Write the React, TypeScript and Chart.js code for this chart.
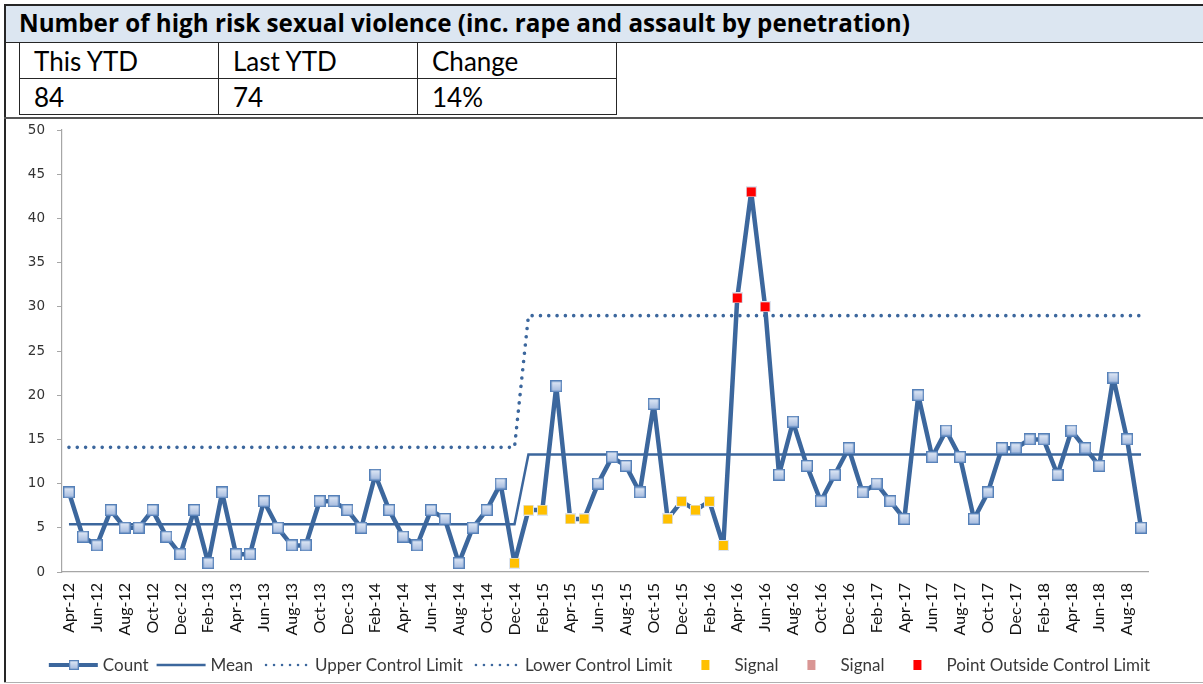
import React, { useEffect, useRef } from 'react';
import { Chart, registerables } from 'chart.js';

Chart.register(...registerables);

const months = [
  'Apr-12', 'May-12', 'Jun-12', 'Jul-12', 'Aug-12', 'Sep-12', 'Oct-12', 'Nov-12', 'Dec-12',
  'Jan-13', 'Feb-13', 'Mar-13', 'Apr-13', 'May-13', 'Jun-13', 'Jul-13', 'Aug-13', 'Sep-13', 'Oct-13', 'Nov-13', 'Dec-13',
  'Jan-14', 'Feb-14', 'Mar-14', 'Apr-14', 'May-14', 'Jun-14', 'Jul-14', 'Aug-14', 'Sep-14', 'Oct-14', 'Nov-14', 'Dec-14',
  'Jan-15', 'Feb-15', 'Mar-15', 'Apr-15', 'May-15', 'Jun-15', 'Jul-15', 'Aug-15', 'Sep-15', 'Oct-15', 'Nov-15', 'Dec-15',
  'Jan-16', 'Feb-16', 'Mar-16', 'Apr-16', 'May-16', 'Jun-16', 'Jul-16', 'Aug-16', 'Sep-16', 'Oct-16', 'Nov-16', 'Dec-16',
  'Jan-17', 'Feb-17', 'Mar-17', 'Apr-17', 'May-17', 'Jun-17', 'Jul-17', 'Aug-17', 'Sep-17', 'Oct-17', 'Nov-17', 'Dec-17',
  'Jan-18', 'Feb-18', 'Mar-18', 'Apr-18', 'May-18', 'Jun-18', 'Jul-18', 'Aug-18', 'Sep-18',
];

const countValues = [
  9, 4, 3, 7, 5, 5, 7, 4, 2, 7,
  1, 9, 2, 2, 8, 5, 3, 3, 8, 8,
  7, 5, 11, 7, 4, 3, 7, 6, 1, 5,
  7, 10, 1, 7, 7, 21, 6, 6, 10, 13,
  12, 9, 19, 6, 8, 7, 8, 3, 31, 43,
  30, 11, 17, 12, 8, 11, 14, 9, 10, 8,
  6, 20, 13, 16, 13, 6, 9, 14, 14, 15,
  15, 11, 16, 14, 12, 22, 15, 5,
];

const meanValues = [
  5.4, 5.4, 5.4, 5.4, 5.4, 5.4, 5.4, 5.4, 5.4, 5.4,
  5.4, 5.4, 5.4, 5.4, 5.4, 5.4, 5.4, 5.4, 5.4, 5.4,
  5.4, 5.4, 5.4, 5.4, 5.4, 5.4, 5.4, 5.4, 5.4, 5.4,
  5.4, 5.4, 5.4, 13.3, 13.3, 13.3, 13.3, 13.3, 13.3, 13.3,
  13.3, 13.3, 13.3, 13.3, 13.3, 13.3, 13.3, 13.3, 13.3, 13.3,
  13.3, 13.3, 13.3, 13.3, 13.3, 13.3, 13.3, 13.3, 13.3, 13.3,
  13.3, 13.3, 13.3, 13.3, 13.3, 13.3, 13.3, 13.3, 13.3, 13.3,
  13.3, 13.3, 13.3, 13.3, 13.3, 13.3, 13.3, 13.3,
];

const uclValues = [
  14.1, 14.1, 14.1, 14.1, 14.1, 14.1, 14.1, 14.1, 14.1, 14.1,
  14.1, 14.1, 14.1, 14.1, 14.1, 14.1, 14.1, 14.1, 14.1, 14.1,
  14.1, 14.1, 14.1, 14.1, 14.1, 14.1, 14.1, 14.1, 14.1, 14.1,
  14.1, 14.1, 14.1, 29, 29, 29, 29, 29, 29, 29,
  29, 29, 29, 29, 29, 29, 29, 29, 29, 29,
  29, 29, 29, 29, 29, 29, 29, 29, 29, 29,
  29, 29, 29, 29, 29, 29, 29, 29, 29, 29,
  29, 29, 29, 29, 29, 29, 29, 29,
];

// Lower control limit lies below the visible axis range (not readable in the picture)
const lclValues: (number | null)[] = months.map(() => null);

// months flagged as a "Signal" (yellow) and as outside the control limits (red)
const signalMonths = ['Dec-14', 'Jan-15', 'Feb-15', 'Apr-15', 'May-15', 'Nov-15', 'Dec-15', 'Jan-16', 'Feb-16', 'Mar-16'];
const signal2Months: string[] = [];
const outsideMonths = ['Apr-16', 'May-16', 'Jun-16'];

const yTicks = [0, 5, 10, 15, 20, 25, 30, 35, 40, 45, 50];

const tableHead = ['This YTD', 'Last YTD', 'Change'];
const tableValues = ['84', '74', '14%'];

const TITLE = 'Number of high risk sexual violence (inc. rape and assault by penetration)';

const LINE_BLUE = '#3c679d';

function makeSquare(size: number, top: string, bottom: string, stroke: string, lw: number) {
  const c = document.createElement('canvas');
  c.width = size;
  c.height = size;
  const g = c.getContext('2d')!;
  const grad = g.createLinearGradient(0, 0, 0, size);
  grad.addColorStop(0, top);
  grad.addColorStop(1, bottom);
  g.fillStyle = grad;
  g.fillRect(0, 0, size, size);
  g.strokeStyle = stroke;
  g.lineWidth = lw;
  g.strokeRect(lw / 2, lw / 2, size - lw, size - lw);
  return c;
}

const pick = (list: string[]) => countValues.map((v, i) => (list.includes(months[i]) ? v : null));

export default function App() {
  const ref = useRef<HTMLCanvasElement>(null);

  useEffect(() => {
    document.body.style.margin = '0';
    const countMarker = makeSquare(12, '#e6edf8', '#9db5dc', '#5580b8', 1.4);
    const yellowMarker = makeSquare(11, '#ffc000', '#ffc000', '#dde4ef', 1);
    const pinkMarker = makeSquare(11, '#d99694', '#d99694', '#dde4ef', 1);
    const redMarker = makeSquare(11, '#ff0000', '#ff0000', '#dde4ef', 1);
    const flagged = [...signalMonths, ...signal2Months, ...outsideMonths];

    const legendPlugin = {
      id: 'spcLegend',
      afterDraw(chart: any) {
        const ctx: CanvasRenderingContext2D = chart.ctx;
        ctx.save();
        ctx.font = '17px Lato';
        ctx.textBaseline = 'middle';
        ctx.textAlign = 'left';
        const ds = chart.data.datasets;
        const widths = ds.map((d: any) => 54 + ctx.measureText(d.label).width);
        const total = widths.reduce((a: number, b: number) => a + b, 0) + 8 * (ds.length - 1);
        let x = (1203 - total) / 2 - 8;
        const y = 546;
        ds.forEach((d: any, i: number) => {
          const cx = x + 25;
          ctx.save();
          if (d.legendKey === 'markerLine' || d.legendKey === 'line') {
            ctx.strokeStyle = d.borderColor;
            ctx.lineWidth = d.legendKey === 'markerLine' ? 4 : 2.5;
            ctx.beginPath();
            ctx.moveTo(cx - 25, y);
            ctx.lineTo(cx + 24, y);
            ctx.stroke();
            if (d.legendKey === 'markerLine') ctx.drawImage(countMarker, cx - 5, y - 5, 10, 10);
          } else if (d.legendKey === 'dots') {
            ctx.fillStyle = d.borderColor;
            for (let k = 0; k < 6; k++) {
              ctx.beginPath();
              ctx.arc(cx - 20 + k * 8, y, 1.3, 0, Math.PI * 2);
              ctx.fill();
            }
          } else {
            ctx.fillStyle = d.legendColor;
            ctx.fillRect(cx - 4, y - 5, 8, 10);
          }
          ctx.restore();
          ctx.fillStyle = '#3a3a3a';
          ctx.fillText(d.label, x + 54, y + 1);
          x += widths[i] + 8;
        });
        ctx.restore();
      },
    };

    const chart = new Chart(ref.current!, {
      type: 'line',
      data: {
        labels: months,
        datasets: [
          {
            label: 'Count',
            data: countValues,
            borderColor: LINE_BLUE,
            borderWidth: 4.5,
            borderJoinStyle: 'round',
            tension: 0,
            pointStyle: countMarker as any,
            pointRadius: (c: any) => (flagged.includes(months[c.dataIndex]) ? 0 : 6),
            pointHoverRadius: (c: any) => (flagged.includes(months[c.dataIndex]) ? 0 : 6),
            order: 2,
            legendKey: 'markerLine',
          } as any,
          {
            label: 'Mean',
            data: meanValues,
            borderColor: LINE_BLUE,
            borderWidth: 2.5,
            pointRadius: 0,
            tension: 0,
            order: 3,
            legendKey: 'line',
          } as any,
          {
            label: 'Upper Control Limit',
            data: uclValues,
            borderColor: LINE_BLUE,
            borderWidth: 3.6,
            borderDash: [0.01, 8.3],
            borderCapStyle: 'round',
            pointRadius: 0,
            tension: 0,
            order: 4,
            legendKey: 'dots',
          } as any,
          {
            label: 'Lower Control Limit',
            data: lclValues,
            borderColor: LINE_BLUE,
            borderWidth: 3.6,
            borderDash: [0.01, 8.3],
            borderCapStyle: 'round',
            pointRadius: 0,
            order: 5,
            legendKey: 'dots',
          } as any,
          {
            label: 'Signal',
            data: pick(signalMonths),
            showLine: false,
            pointStyle: yellowMarker as any,
            pointRadius: 5,
            borderColor: '#ffc000',
            order: 1,
            legendKey: 'square',
            legendColor: '#ffc000',
          } as any,
          {
            label: 'Signal',
            data: pick(signal2Months),
            showLine: false,
            pointStyle: pinkMarker as any,
            pointRadius: 5,
            borderColor: '#d99694',
            order: 1,
            legendKey: 'square',
            legendColor: '#d99694',
          } as any,
          {
            label: 'Point Outside Control Limit',
            data: pick(outsideMonths),
            showLine: false,
            pointStyle: redMarker as any,
            pointRadius: 5,
            borderColor: '#ff0000',
            order: 0,
            legendKey: 'square',
            legendColor: '#ff0000',
          } as any,
        ],
      },
      options: {
        animation: false,
        responsive: false,
        devicePixelRatio: 1,
        events: [],
        layout: { padding: { top: 11, right: 55, bottom: 40, left: 0 } },
        plugins: {
          legend: { display: false },
          tooltip: { enabled: false },
          title: { display: false },
        },
        scales: {
          x: {
            type: 'category',
            offset: true,
            grid: { display: false, drawTicks: false },
            border: { display: true, color: '#a6a6a6', width: 1.2 },
            ticks: {
              autoSkip: false,
              minRotation: 90,
              maxRotation: 90,
              padding: 11,
              color: '#111',
              font: { family: 'Lato', size: 16 },
              callback: (_v: any, i: number) => (i % 2 === 0 ? months[i] : ''),
            },
            afterFit: (s: any) => {
              s.height = 70;
            },
          },
          y: {
            min: 0,
            max: 50,
            afterBuildTicks: (s: any) => {
              s.ticks = yTicks.map((v) => ({ value: v }));
            },
            grid: {
              display: true,
              drawOnChartArea: false,
              drawTicks: true,
              tickLength: 5,
              color: '#a6a6a6',
            },
            border: { display: true, color: '#a6a6a6', width: 1.2 },
            ticks: {
              padding: 12,
              color: '#333',
              font: { family: 'DejaVu Sans', size: 13.5 },
            },
            afterFit: (s: any) => {
              s.width = 56;
              s.paddingTop = 0;
              s.paddingBottom = 0;
            },
          },
        },
      },
      plugins: [legendPlugin],
    });
    return () => chart.destroy();
  }, []);

  const border = '#262626';
  const cell: React.CSSProperties = {
    border: `1.5px solid ${border}`,
    padding: '0 0 0 14px',
    height: 36,
    fontSize: 26,
    fontFamily: 'Lato, sans-serif',
    color: '#000',
    lineHeight: '34px',
    textAlign: 'left',
    boxSizing: 'border-box',
  };

  return (
    <div
      style={{
        position: 'absolute',
        left: 0,
        top: 0,
        width: 1203,
        height: 684,
        background: '#fff',
        overflow: 'hidden',
        fontFamily: 'Lato, sans-serif',
      }}
    >
      <div
        style={{
          position: 'absolute',
          left: 4,
          top: 4,
          width: 1199,
          height: 39,
          boxSizing: 'border-box',
          background: '#dce6f1',
          borderTop: `2px solid ${border}`,
          borderLeft: `2px solid ${border}`,
          borderBottom: `1.5px solid ${border}`,
          fontWeight: 700,
          fontSize: 24.2,
          fontFamily: '"Open Sans", sans-serif',
          lineHeight: '34px',
          paddingLeft: 13,
          color: '#000',
          whiteSpace: 'nowrap',
        }}
      >
        {TITLE}
      </div>
      <div style={{ position: 'absolute', left: 4, top: 42, width: 2, height: 641, background: border }} />
      <table
        style={{
          position: 'absolute',
          left: 19,
          top: 42,
          borderCollapse: 'collapse',
          tableLayout: 'fixed',
          width: 597,
        }}
      >
        <tbody>
          <tr>
            {tableHead.map((h) => (
              <td key={h} style={{ ...cell, width: 199 }}>
                {h}
              </td>
            ))}
          </tr>
          <tr>
            {tableValues.map((v) => (
              <td key={v} style={{ ...cell, width: 199 }}>
                {v}
              </td>
            ))}
          </tr>
        </tbody>
      </table>
      <div style={{ position: 'absolute', left: 4, top: 117, width: 1199, height: 1.5, background: '#555' }} />
      <div style={{ position: 'absolute', left: 4, top: 682, width: 1199, height: 1, background: '#b0b0b0' }} />
      <canvas
        ref={ref}
        width={1197}
        height={563}
        style={{ position: 'absolute', left: 6, top: 119, width: 1197, height: 563 }}
      />
    </div>
  );
}
